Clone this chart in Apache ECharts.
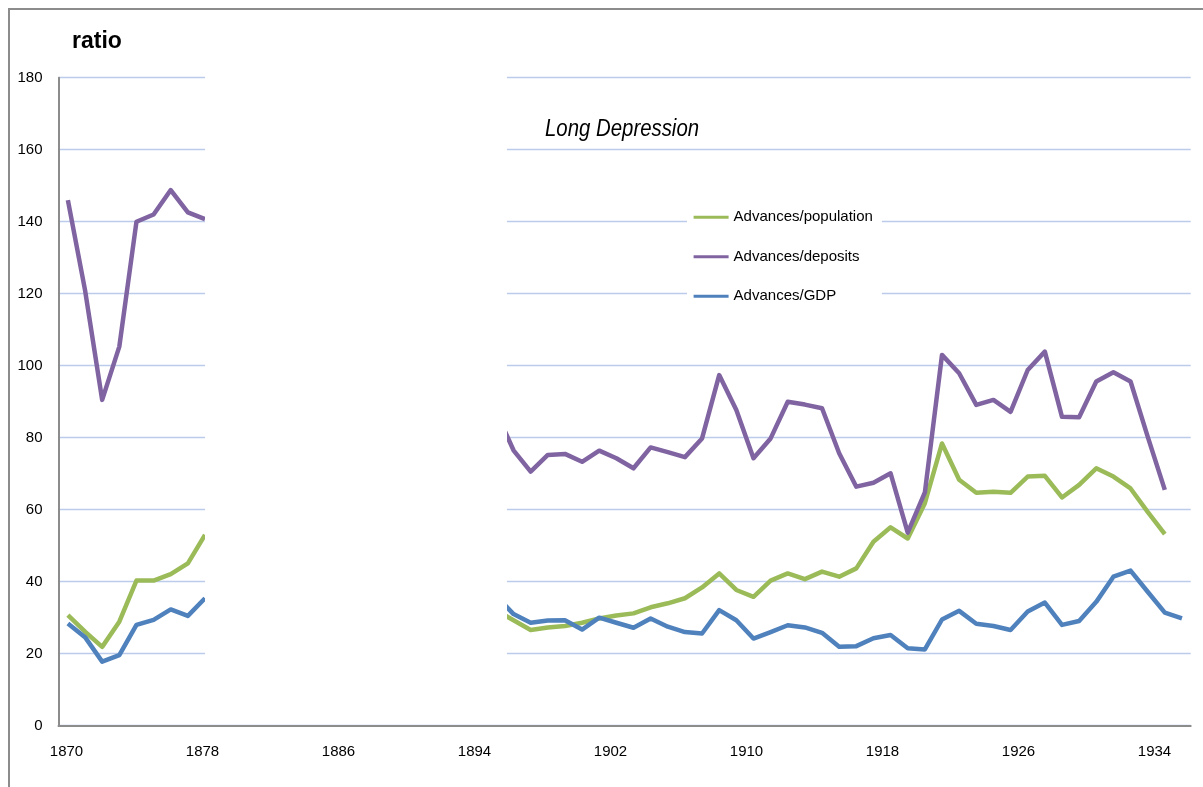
<!DOCTYPE html>
<html>
<head>
<meta charset="utf-8">
<title>Advances ratios 1870-1935</title>
<script src="https://cdn.jsdelivr.net/npm/echarts@6/dist/echarts.min.js"></script>
<style>
  html, body { margin: 0; padding: 0; background: #fff; }
  #chart { width: 1203px; height: 787px; }
</style>
</head>
<body>
<div id="chart"></div>
<script>
// Years of the series (1879-1894 are not shown: Long Depression gap)
const years = [
  1870, 1871, 1872, 1873, 1874, 1875, 1876, 1877, 1878, 1879,
  1880, 1881, 1882, 1883, 1884, 1885, 1886, 1887, 1888, 1889,
  1890, 1891, 1892, 1893, 1894, 1895, 1896, 1897, 1898, 1899,
  1900, 1901, 1902, 1903, 1904, 1905, 1906, 1907, 1908, 1909,
  1910, 1911, 1912, 1913, 1914, 1915, 1916, 1917, 1918, 1919,
  1920, 1921, 1922, 1923, 1924, 1925, 1926, 1927, 1928, 1929,
  1930, 1931, 1932, 1933, 1934, 1935
];

const advancesPopulation = [
  30.7, 26.1, 21.9, 28.9, 40.3, 40.3, 42.1, 45.1, 53.0, null,
  null, null, null, null, null, null, null, null, null, null,
  null, null, null, null, null, 32.0, 29.3, 26.6, 27.3, 27.7,
  28.6, 29.8, 30.6, 31.2, 32.9, 34.0, 35.4, 38.4, 42.3, 37.7,
  35.8, 40.3, 42.3, 40.7, 42.8, 41.4, 43.7, 51.1, 55.1, 52.0,
  61.8, 78.4, 68.3, 64.7, 65.0, 64.7, 69.2, 69.4, 63.4, 66.9,
  71.5, 69.2, 65.9, 59.4, 53.2, null
];

const advancesDeposits = [
  146.0, 121.0, 90.5, 105.3, 140.0, 142.0, 148.8, 142.6, 140.7, null,
  null, null, null, null, null, null, null, null, null, null,
  null, null, null, null, null, 87.0, 76.5, 70.6, 75.2, 75.5,
  73.3, 76.4, 74.3, 71.5, 77.3, 76.0, 74.6, 79.8, 97.4, 87.7,
  74.3, 79.8, 90.0, 89.2, 88.2, 75.7, 66.4, 67.5, 70.1, 53.6,
  64.8, 103.0, 97.9, 89.1, 90.5, 87.2, 98.8, 103.9, 85.8, 85.7,
  95.6, 98.2, 95.6, 80.3, 65.5, null
];

const advancesGDP = [
  28.4, 24.6, 17.8, 19.6, 28.0, 29.4, 32.3, 30.5, 35.4, null,
  null, null, null, null, null, null, null, null, null, null,
  null, null, null, null, null, 36.0, 31.0, 28.6, 29.2, 29.3,
  26.7, 30.0, 28.6, 27.2, 29.8, 27.5, 26.0, 25.6, 32.1, 29.3,
  24.2, 26.0, 27.9, 27.3, 25.8, 21.9, 22.1, 24.3, 25.2, 21.5,
  21.2, 29.5, 31.9, 28.3, 27.7, 26.6, 31.7, 34.2, 28.0, 29.1,
  34.4, 41.4, 43.1, 37.2, 31.4, 29.8
];

const xTickYears = [1870, 1878, 1886, 1894, 1902, 1910, 1918, 1926, 1934];
const seriesNames = ['Advances/population', 'Advances/deposits', 'Advances/GDP'];
const seriesColors = ['#9BBB59', '#8064A2', '#4F81BD'];
// span of years blanked out between the two periods
const gapYears = [1878, 1895.62];

const FONT = '"Liberation Sans", Arial, Helvetica, sans-serif';

function pairs(vals) {
  return years.map((y, i) => [y, vals[i] == null ? '-' : vals[i]]);
}

const chart = echarts.init(document.getElementById('chart'), null, { renderer: 'canvas' });

const seriesValues = [advancesPopulation, advancesDeposits, advancesGDP];

const option = {
  animation: false,
  backgroundColor: '#fff',
  textStyle: { fontFamily: FONT },
  title: {
    text: 'ratio',
    left: 72,
    top: 30,
    padding: 0,
    textStyle: { fontSize: 23, fontWeight: 'bold', color: '#000', fontFamily: FONT }
  },
  grid: {
    left: 58.5,
    right: 12.3,
    top: 77.7,
    bottom: 61.3,
    containLabel: false,
    outerBoundsMode: 'none'
  },
  legend: {
    orient: 'vertical',
    left: 687,
    top: 200,
    padding: [9.7, 9, 10, 6.6],
    backgroundColor: '#fff',
    itemWidth: 35,
    itemHeight: 14,
    itemGap: 24.5,
    icon: 'path://M0,0H35V3H0Z',
    selectedMode: false,
    textStyle: { fontSize: 15, lineHeight: 15, color: '#000', fontFamily: FONT },
    data: seriesNames
  },
  xAxis: [
    {
      // visible axis carrying the year labels
      type: 'value',
      min: 1869.53,
      max: 1936.13,
      axisLine: { show: true, onZero: false, lineStyle: { color: '#8c8c8c', width: 2 } },
      axisTick: { show: false },
      splitLine: { show: false },
      axisLabel: {
        customValues: xTickYears,
        fontSize: 15,
        color: '#000',
        margin: 19,
        fontFamily: FONT,
        formatter: v => String(v)
      }
    },
    {
      // axis that positions the data points
      type: 'value',
      min: 1869.452,
      max: 1935.51,
      show: false
    }
  ],
  yAxis: {
    type: 'value',
    min: 0,
    max: 180,
    interval: 20,
    axisLine: { show: true, onZero: false, lineStyle: { color: '#8c8c8c', width: 2 } },
    axisTick: { show: false },
    axisLabel: { fontSize: 15, color: '#000', margin: 16, fontFamily: FONT },
    splitLine: { show: true, lineStyle: { color: '#bccbea', width: 1.3 } }
  },
  series: seriesNames.map((name, i) => ({
    name: name,
    type: 'line',
    xAxisIndex: 1,
    yAxisIndex: 0,
    data: pairs(seriesValues[i]),
    showSymbol: false,
    symbol: 'none',
    connectNulls: false,
    color: seriesColors[i],
    lineStyle: { width: 4.5, color: seriesColors[i], cap: 'butt', join: 'round' },
    itemStyle: { color: seriesColors[i] },
    emphasis: { disabled: true },
    z: 2 + i
  })),
  graphic: [
    {
      id: 'frame',
      type: 'rect',
      silent: true,
      z: 0,
      shape: { x: 9, y: 9, width: 1400, height: 1000 },
      style: { fill: 'none', stroke: '#8c8c8c', lineWidth: 2 }
    },
    {
      id: 'note',
      type: 'text',
      silent: true,
      z: 50,
      x: 545,
      y: 118.5,
      scaleX: 0.886,
      style: {
        text: 'Long Depression',
        fontSize: 23,
        fontStyle: 'italic',
        fontFamily: FONT,
        fill: '#000'
      }
    }
  ]
};

chart.setOption(option);

// blank band over the gap years, positioned through the axes
const gx0 = chart.convertToPixel({ xAxisIndex: 1 }, gapYears[0]);
const gx1 = chart.convertToPixel({ xAxisIndex: 1 }, gapYears[1]);
const gyTop = chart.convertToPixel({ yAxisIndex: 0 }, 180) - 10;
const gyBottom = chart.convertToPixel({ yAxisIndex: 0 }, 0) - 2;

chart.setOption({
  graphic: [
    {
      id: 'gap',
      type: 'rect',
      silent: true,
      z: 40,
      shape: { x: gx0, y: gyTop, width: gx1 - gx0, height: gyBottom - gyTop },
      style: { fill: '#fff' }
    }
  ]
});
</script>
</body>
</html>
